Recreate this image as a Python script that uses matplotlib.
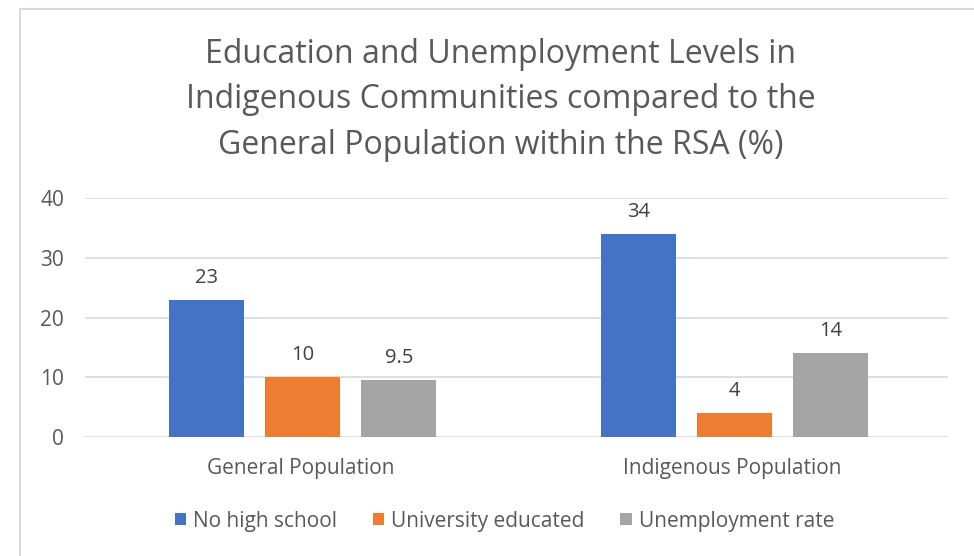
import matplotlib.pyplot as plt
import numpy as np

categories = ['General Population', 'Indigenous Population']
series = ['No high school', 'University educated', 'Unemployment rate']
no_high_school = [23, 34]
university = [10, 4]
unemployment = [9.5, 14]
colors = ['#4472C4', '#ED7D31', '#A5A5A5']

plt.rcParams['font.family'] = ['Open Sans', 'DejaVu Sans']
txt = '#595959'

fig = plt.figure(figsize=(9.74, 5.56), dpi=100)
# chart frame like the excel chart area
fig.patches.append(plt.Rectangle((20 / 974, -0.1), 1.2, 1 - 9 / 556 + 0.1, transform=fig.transFigure,
                                 fill=False, edgecolor='#D9D9D9', linewidth=1.5))

ax = fig.add_axes([85 / 974, 1 - 437 / 556, (948 - 85) / 974, (437 - 198) / 556])

x = np.arange(len(categories))
width = 0.174
step = 0.2225
values = [no_high_school, university, unemployment]
for i, (name, vals) in enumerate(zip(series, values)):
    bars = ax.bar(x + (i - 1) * step + 0.005, vals, width, color=colors[i], label=name, zorder=3)
    for b, v in zip(bars, vals):
        ax.text(b.get_x() + b.get_width() / 2, v + 2.0, f'{v:g}', ha='center', va='bottom',
                fontsize=14.5, color='#404040')

ax.set_xlim(-0.5, 1.5)
ax.set_ylim(0, 40)
ax.set_yticks([0, 10, 20, 30, 40])
ax.yaxis.grid(True, color='#D9D9D9', linewidth=1.2, zorder=0)
ax.set_xticks(x)
ax.set_xticklabels(categories)
ax.tick_params(axis='both', length=0, labelsize=15, colors=txt)
ax.tick_params(axis='x', pad=15)
ax.tick_params(axis='y', pad=15)
for s in ax.spines.values():
    s.set_visible(False)

fig.text(0.514, 1 - 100 / 556, 'Education and Unemployment Levels in\nIndigenous Communities compared to the\nGeneral Population within the RSA (%)',
         ha='center', va='center', fontsize=23, color=txt, linespacing=1.5)

fig.legend(loc='center', bbox_to_anchor=(0.518, 1 - 521 / 556), ncol=3, frameon=False,
           fontsize=15, labelcolor=txt, handlelength=0.55, handleheight=0.55,
           handletextpad=0.35, columnspacing=1.7)

fig.savefig('out.png', dpi=100)
